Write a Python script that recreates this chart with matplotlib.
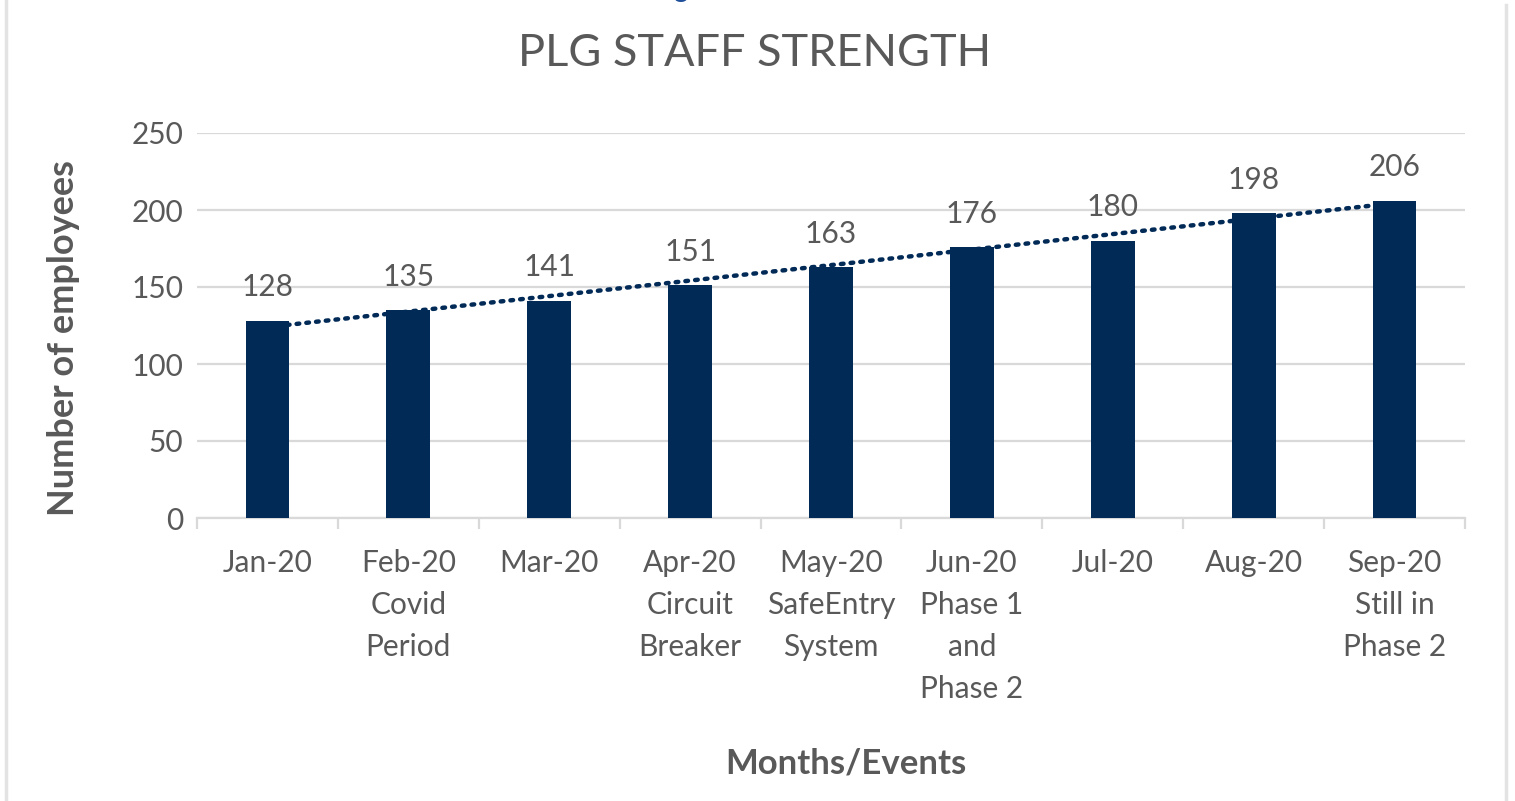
import numpy as np
import matplotlib
matplotlib.use("Agg")
import matplotlib.pyplot as plt
from matplotlib.lines import Line2D

# 数据
categories = ["Jan-20", "Feb-20\nCovid\nPeriod", "Mar-20", "Apr-20\nCircuit\nBreaker",
              "May-20\nSafeEntry\nSystem", "Jun-20\nPhase 1\nand\nPhase 2", "Jul-20",
              "Aug-20", "Sep-20\nStill in\nPhase 2"]
staff = [128, 135, 141, 151, 163, 176, 180, 198, 206]
y_ticks = [0, 50, 100, 150, 200, 250]

plt.rcParams['font.family'] = ['Lato', 'DejaVu Sans']
text_gray = '#595959'
bar_color = '#022a57'
grid_gray = '#d9d9d9'

W, H = 1515, 801
fig = plt.figure(figsize=(W / 100, H / 100), dpi=100)
ax = fig.add_axes([197 / W, 1 - 518 / H, (1465 - 197) / W, (518 - 133) / H])

x = np.arange(len(staff))
ax.bar(x, staff, width=0.31, color=bar_color, zorder=3)

# 线性趋势线（画在柱子后面）
coef = np.polyfit(x, staff, 1)
trend = np.polyval(coef, x)
ax.plot(x, trend, linestyle=(0, (0.6, 1.6)), dash_capstyle='round', lw=3.2,
        color=bar_color, zorder=2)

# 数据标签
for xi, v in zip(x, staff):
    ax.annotate(str(v), (xi, v), xytext=(0, 14), textcoords='offset points',
                ha='center', va='bottom', fontsize=21.5, color=text_gray, zorder=4)

ax.set_xlim(-0.5, len(staff) - 0.5)
ax.set_ylim(0, 250)
ax.set_yticks(y_ticks)
ax.set_xticks(x)
ax.set_xticklabels(categories, linespacing=1.62)
ax.set_xticks(np.arange(-0.5, len(staff)), minor=True)

ax.grid(axis='y', color=grid_gray, lw=1.6, zorder=0)
for side in ['top', 'right', 'left']:
    ax.spines[side].set_visible(False)
ax.spines['bottom'].set_color(grid_gray)
ax.spines['bottom'].set_linewidth(1.6)

ax.tick_params(axis='y', length=0, pad=10, labelsize=21.5, labelcolor=text_gray)
ax.tick_params(axis='x', which='major', length=0, pad=22, labelsize=21.5,
               labelcolor=text_gray)
ax.tick_params(axis='x', which='minor', length=8, width=1.6, color=grid_gray)

ax.set_ylabel("Number of employees", fontsize=26, fontweight='bold', color=text_gray)
ax.yaxis.set_label_coords(-0.092, 0.468)
ax.set_xlabel("Months/Events", fontsize=25, fontweight='bold', color=text_gray)
ax.xaxis.set_label_coords(0.512, -0.597)

fig.text(755 / W, 1 - 54 / H, "PLG STAFF STRENGTH", ha='center', va='center',
         fontsize=32.5, color=text_gray)

# 截断的说明文字和外框
fig.text(680 / W, 1 + 3 / H, "g", ha='center', va='baseline', fontsize=20,
         color='#1f4e9a')
fig.add_artist(Line2D([5.5 / W, 5.5 / W], [0, 1], color='#e3e3e3', lw=2.5))
fig.add_artist(Line2D([1506 / W, 1506 / W], [0, 1 - 5 / H], color='#e3e3e3', lw=2.5))

fig.savefig("out.png", dpi=100)
